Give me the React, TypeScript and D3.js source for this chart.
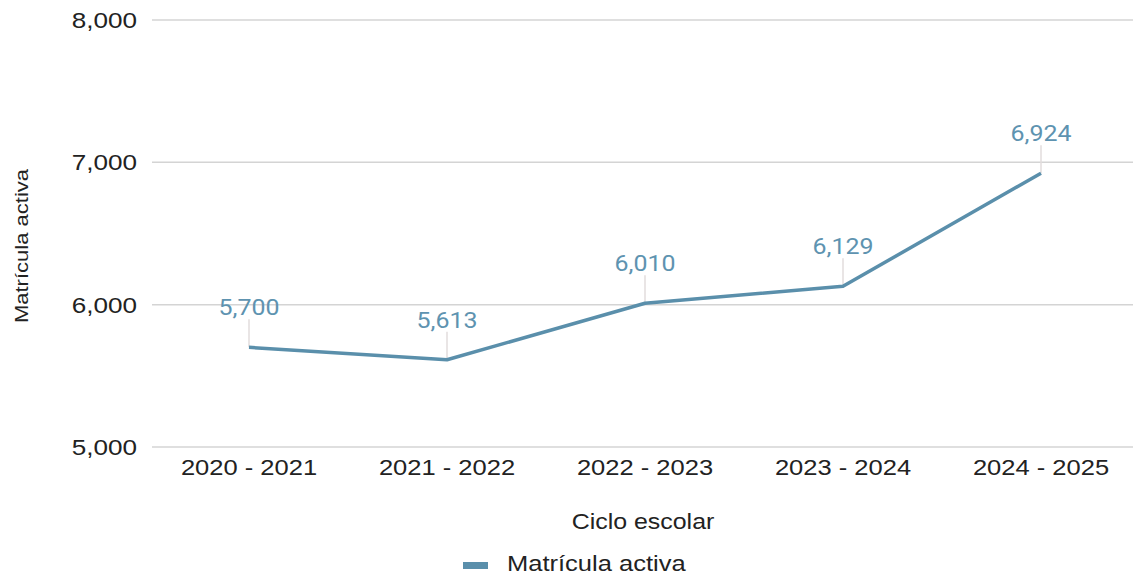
import React from 'react';
import * as d3 from 'd3';

const ciclos = ['2020 - 2021', '2021 - 2022', '2022 - 2023', '2023 - 2024', '2024 - 2025'];
const matricula = [5700, 5613, 6010, 6129, 6924];
const yTicks = [5000, 6000, 7000, 8000];
const serieNombre = 'Matrícula activa';

const W = 1133, H = 576;
const lineColor = '#5a8fab';
const labelColor = '#5e93b0';
const sx = 1.16; // the reference text is stretched horizontally

export default function App() {
    const x = d3.scaleBand<string>().domain(ciclos).range([150, 1140]).padding(0);
    const y = d3.scaleLinear().domain([5000, 8000]).range([447, 20]);
    const fmt = d3.format(',');

    const pts = ciclos.map((c, i) => ({ c, v: matricula[i], px: (x(c) as number) + x.bandwidth() / 2, py: y(matricula[i]) }));
    const line = d3.line<any>().x(d => d.px).y(d => d.py)(pts) as string;

    const axisFont = '"Liberation Sans", Arial, sans-serif';

    const T = (props: any) => {
        const { x: tx, y: ty, anchor, children, ...rest } = props;
        return (
            <text transform={`translate(${tx},${ty}) scale(${sx},1)`} textAnchor={anchor} {...rest}>{children}</text>
        );
    };

    return (
        <svg width={W} height={H} style={{ position: 'absolute', left: 0, top: 0, background: '#fff' }}>
            {/* grid + y ticks */}
            {yTicks.map(t => (
                <g key={t}>
                    <line x1={152} x2={W} y1={y(t)} y2={y(t)} stroke="#d4d4d4" strokeWidth={1.5} />
                    <T x={137} y={y(t) + 8} anchor="end" fontFamily={axisFont} fontSize={22.5} fill="#222">{fmt(t)}</T>
                </g>
            ))}

            {/* x tick labels */}
            {pts.map(p => (
                <T key={p.c} x={p.px} y={475} anchor="middle" fontFamily={axisFont} fontSize={22} fill="#222">{p.c}</T>
            ))}

            {/* leader lines */}
            {pts.map(p => (
                <line key={'l' + p.c} x1={p.px} x2={p.px} y1={p.py - 28} y2={p.py} stroke="#e2dcdc" strokeWidth={1.5} />
            ))}

            <path d={line} fill="none" stroke={lineColor} strokeWidth={3.5} strokeLinejoin="round" />

            {/* data labels */}
            {pts.map(p => (
                <T key={'t' + p.c} x={p.px} y={p.py - 32} anchor="middle" fontFamily="Roboto, sans-serif" fontSize={21.5} fill={labelColor}>{fmt(p.v)}</T>
            ))}

            {/* axis titles */}
            <T x={643} y={529} anchor="middle" fontFamily={axisFont} fontSize={21.5} fill="#222">Ciclo escolar</T>
            <text transform={`translate(28,246) rotate(-90) scale(${sx},1)`} textAnchor="middle" fontFamily={axisFont} fontSize={19} fill="#222">{serieNombre}</text>

            {/* legend */}
            <rect x={463} y={562} width={25} height={7} fill={lineColor} />
            <T x={507} y={571} anchor="start" fontFamily={axisFont} fontSize={22} fill="#222">{serieNombre}</T>
        </svg>
    );
}
